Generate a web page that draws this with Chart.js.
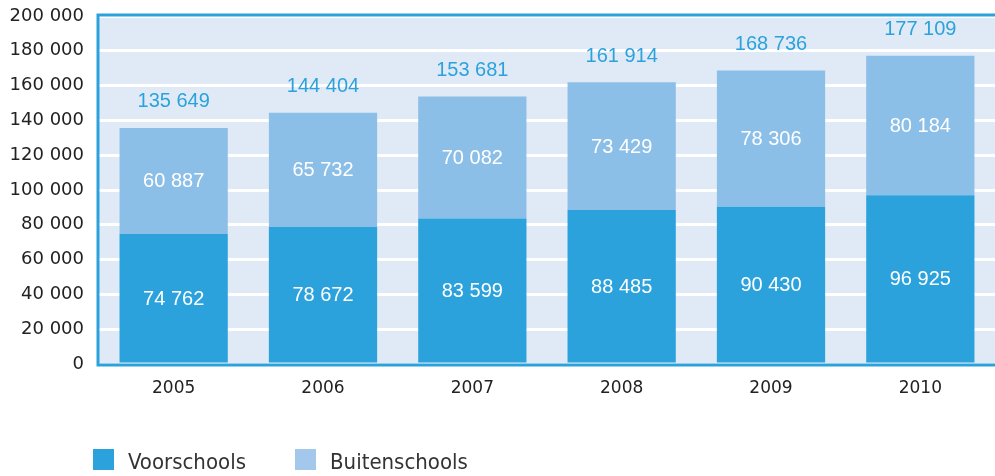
<!DOCTYPE html>
<html>
<head>
<meta charset="utf-8">
<script src="https://cdn.jsdelivr.net/npm/chart.js@4/dist/chart.umd.min.js"></script>
<style>
  html, body { margin: 0; padding: 0; background: #fff; }
  #wrap { position: relative; width: 995px; height: 476px; }
</style>
</head>
<body>
<div id="wrap"><canvas id="chart"></canvas></div>
<script>
// chart data
const years = ['2005', '2006', '2007', '2008', '2009', '2010'];
const voorschools = [74762, 78672, 83599, 88485, 90430, 96925];
const buitenschools = [60887, 65732, 70082, 73429, 78306, 80184];
const yTicks = [0, 20000, 40000, 60000, 80000, 100000, 120000, 140000, 160000, 180000, 200000];

const blue = '#2ca2dc';
const lightBlue = '#8cbfe7';
const legendLight = '#a3c8eb';

function fmt(n) {
    return String(n).replace(/\B(?=(\d{3})+(?!\d))/g, ' ');
}

// plot background + top/left/bottom border lines
const plotFrame = {
    id: 'plotFrame',
    beforeDraw(chart) {
        const a = chart.chartArea, ctx = chart.ctx;
        ctx.save();
        ctx.fillStyle = '#dfeaf6';
        ctx.fillRect(a.left, a.top, a.right - a.left, a.bottom - a.top);
        ctx.restore();
    },
    afterDatasetsDraw(chart) {
        const a = chart.chartArea, ctx = chart.ctx;
        ctx.save();
        ctx.strokeStyle = blue;
        ctx.lineWidth = 3;
        ctx.beginPath();
        ctx.moveTo(a.right, a.top - 1);
        ctx.lineTo(a.left - 1, a.top - 1);
        ctx.lineTo(a.left - 1, a.bottom + 1);
        ctx.lineTo(a.right, a.bottom + 1);
        ctx.stroke();
        ctx.restore();
    }
};

// value labels inside segments and totals above the bars
const valueLabels = {
    id: 'valueLabels',
    afterDatasetsDraw(chart) {
        const ctx = chart.ctx;
        const y = chart.scales.y;
        ctx.save();
        ctx.textAlign = 'center';
        ctx.textBaseline = 'middle';
        ctx.font = '20px "Liberation Sans", Arial, sans-serif';
        chart.data.datasets.forEach((ds, di) => {
            chart.getDatasetMeta(di).data.forEach((bar, i) => {
                ctx.fillStyle = '#ffffff';
                ctx.fillText(fmt(ds.data[i]), bar.x, (bar.y + bar.base) / 2 + 1);
            });
        });
        const top = chart.getDatasetMeta(1).data;
        top.forEach((bar, i) => {
            const total = voorschools[i] + buitenschools[i];
            ctx.fillStyle = blue;
            ctx.fillText(fmt(total), bar.x, y.getPixelForValue(total) - 26);
        });
        ctx.restore();
    }
};

// legend drawn at the bottom left
const bottomLegend = {
    id: 'bottomLegend',
    afterDraw(chart) {
        const ctx = chart.ctx;
        const items = [
            { text: chart.data.datasets[0].label, color: blue, x: 93, tx: 128 },
            { text: chart.data.datasets[1].label, color: legendLight, x: 295, tx: 330 }
        ];
        ctx.save();
        ctx.font = '22px "DejaVu Sans Condensed", "DejaVu Sans", sans-serif';
        ctx.textBaseline = 'alphabetic';
        ctx.textAlign = 'left';
        items.forEach(it => {
            ctx.fillStyle = it.color;
            ctx.fillRect(it.x, 449, 21, 21);
            ctx.fillStyle = '#333333';
            ctx.fillText(it.text, it.tx, 469);
        });
        ctx.restore();
    }
};

const ctx = document.getElementById('chart').getContext('2d');
new Chart(ctx, {
    type: 'bar',
    data: {
        labels: years,
        datasets: [
            {
                label: 'Voorschools',
                data: voorschools,
                backgroundColor: blue,
                barPercentage: 0.725,
                categoryPercentage: 1.0
            },
            {
                label: 'Buitenschools',
                data: buitenschools,
                backgroundColor: lightBlue,
                barPercentage: 0.725,
                categoryPercentage: 1.0
            }
        ]
    },
    options: {
        responsive: true,
        maintainAspectRatio: false,
        animation: false,
        layout: {
            padding: { top: 16, right: 0, bottom: 76, left: 0 }
        },
        plugins: {
            legend: { display: false },
            tooltip: { enabled: false }
        },
        scales: {
            x: {
                stacked: true,
                grid: { display: false, drawTicks: false },
                border: { display: false },
                ticks: {
                    color: '#222222',
                    font: { family: '"DejaVu Sans", sans-serif', size: 17 },
                    padding: 14,
                    maxRotation: 0
                },
                afterFit(scale) { scale.height = 36; }
            },
            y: {
                stacked: true,
                min: 0,
                max: 200000,
                afterBuildTicks(scale) {
                    scale.ticks = yTicks.map(v => ({ value: v }));
                },
                grid: {
                    color: '#ffffff',
                    lineWidth: 3,
                    drawTicks: false
                },
                border: { display: false },
                ticks: {
                    color: '#222222',
                    font: { family: '"DejaVu Sans", sans-serif', size: 18 },
                    padding: 15,
                    callback: v => fmt(v)
                },
                afterFit(scale) {
                    scale.width = 99;
                    scale.paddingTop = 0;
                    scale.paddingBottom = 0;
                }
            }
        }
    },
    plugins: [plotFrame, valueLabels, bottomLegend]
});
</script>
</body>
</html>
